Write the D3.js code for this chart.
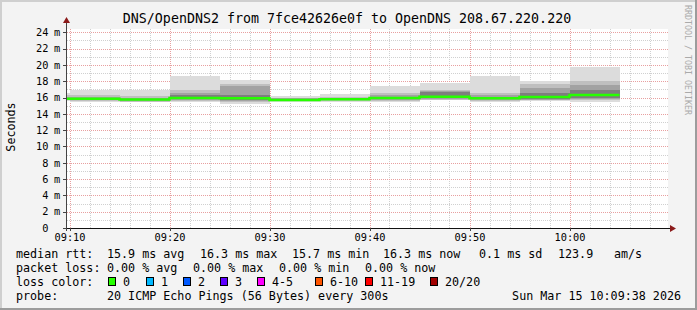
<!DOCTYPE html>
<html>
<head>
<meta charset="utf-8">
<title>smokeping</title>
<script src="https://cdnjs.cloudflare.com/ajax/libs/d3/7.8.5/d3.min.js"></script>
<style>
  body { margin: 0; background: #f3f3f3; }
  text { font-family: "DejaVu Sans Mono", monospace; }
</style>
</head>
<body>
<script>
// 5 minute bins, rtt in ms
const binStarts = ["09:05","09:10","09:15","09:20","09:25","09:30","09:35","09:40","09:45","09:50","09:55","10:00"];
const medianMs = [15.85,15.85,15.75,15.95,15.9,15.7,15.8,15.95,16.1,15.9,16.05,16.3];
const minMs    = [15.6,15.45,15.4,15.5,15.2,15.5,15.45,15.5,15.7,15.5,15.6,15.5];
const maxMs    = [16.5,16.95,16.95,18.6,18.1,16.15,16.4,17.4,17.8,18.6,18.05,19.75];
const q2Lo     = [15.65,15.55,15.5,15.6,15.45,15.55,15.55,15.6,15.75,15.6,15.65,15.65];
const q2Hi     = [16.3,16.3,16.15,16.9,17.65,16.0,16.1,16.5,16.9,16.5,17.6,18.05];
const q3Lo     = [15.7,15.65,15.6,15.7,15.6,15.6,15.65,15.7,15.8,15.7,15.75,15.8];
const q3Hi     = [16.1,16.1,15.95,16.6,17.45,15.9,15.95,16.25,16.8,16.25,17.15,17.55];
const q4Lo     = [15.75,15.75,15.65,15.8,15.75,15.65,15.7,15.8,15.9,15.8,15.85,15.95];
const q4Hi     = [15.95,15.95,15.85,16.3,16.3,15.8,15.9,16.1,16.7,16.05,16.6,16.9];

const yTicks = [0,2,4,6,8,10,12,14,16,18,20,22,24];
const xTicks = ["09:10","09:20","09:30","09:40","09:50","10:00"];

const lossLabels = ["0","1","2","3","4-5","6-10","11-19","20/20"];
const lossColors = ["#26ff00","#00b8ff","#0059ff","#5e00ff","#ff00ff","#ff5500","#ff0000","#a10000"];
const lossBoxX   = [108,146,183,220,257,315,365,430];

const rttStats = ["15.9 ms avg","16.3 ms max","15.7 ms min","16.3 ms now","0.1 ms sd","123.9","am/s"];
const rttX     = [107,200,292,383,479,558,614];
const lossStats = ["0.00 % avg","0.00 % max","0.00 % min","0.00 % now"];
const lossX    = [107,193,279,365];

const title = "DNS/OpenDNS2 from 7fce42626e0f to OpenDNS 208.67.220.220";
const probeText = "20 ICMP Echo Pings (56 Bytes) every 300s";
const stamp = "Sun Mar 15 10:09:38 2026";

const W = 697, H = 310;
const pLeft = 67, pRight = 668, pTop = 29, pBottom = 228;

const parse = s => {
  const [h, m] = s.split(":").map(Number);
  return new Date(2026, 2, 15, h, m);
};

const x = d3.scaleTime()
  .domain([new Date(2026,2,15,9,9,45), new Date(2026,2,15,10,9,51)])
  .range([pLeft, pRight]);
const y = d3.scaleLinear().domain([0, 24.4]).range([pBottom, pTop]);

const svg = d3.select("body").append("svg")
  .attr("width", W).attr("height", H)
  .style("display", "block");

// canvas + 3d frame
svg.append("rect").attr("width", W).attr("height", H).attr("fill", "#f3f3f3");
svg.append("path").attr("d", `M1,${H} V1 H${W}`).attr("stroke", "#cfcfcf").attr("stroke-width", 2).attr("fill", "none");
svg.append("path").attr("d", `M0,${H-1} H${W-1} V0`).attr("stroke", "#9c9c9c").attr("stroke-width", 2).attr("fill", "none");

svg.append("rect").attr("x", pLeft).attr("y", pTop).attr("width", pRight - pLeft).attr("height", pBottom - pTop).attr("fill", "#fff");

svg.append("defs").append("clipPath").attr("id", "plot")
  .append("rect").attr("x", pLeft).attr("y", pTop).attr("width", pRight - pLeft).attr("height", pBottom - pTop);

// grid
const grid = svg.append("g").attr("shape-rendering", "crispEdges");
const minorMs = d3.range(1, 25, 2);
grid.selectAll(".hmin").data(minorMs).join("line")
  .attr("x1", pLeft).attr("x2", pRight)
  .attr("y1", d => Math.round(y(d)) + 0.5).attr("y2", d => Math.round(y(d)) + 0.5)
  .attr("stroke", "#d0d0d0").attr("stroke-dasharray", "1,1");
const minorT = d3.timeMinute.every(2).range(x.domain()[0], x.domain()[1]).filter(t => t.getMinutes() % 10 != 0);
grid.selectAll(".vmin").data(minorT).join("line")
  .attr("y1", pTop).attr("y2", pBottom)
  .attr("x1", d => Math.round(x(d)) + 0.5).attr("x2", d => Math.round(x(d)) + 0.5)
  .attr("stroke", "#d0d0d0").attr("stroke-dasharray", "1,1");
grid.selectAll(".hmaj").data(yTicks.slice(1)).join("line")
  .attr("x1", pLeft).attr("x2", pRight)
  .attr("y1", d => Math.round(y(d)) + 0.5).attr("y2", d => Math.round(y(d)) + 0.5)
  .attr("stroke", "#e8a0a0").attr("stroke-dasharray", "1,1");
grid.selectAll(".vmaj").data(xTicks).join("line")
  .attr("y1", pTop).attr("y2", pBottom)
  .attr("x1", d => Math.round(x(parse(d))) + 0.5).attr("x2", d => Math.round(x(parse(d))) + 0.5)
  .attr("stroke", "#e8a0a0").attr("stroke-dasharray", "1,1");

// smoke
const bins = binStarts.map((s, i) => ({
  t0: parse(s), t1: d3.timeMinute.offset(parse(s), 5),
  med: medianMs[i],
  bands: [[minMs[i], maxMs[i]], [q2Lo[i], q2Hi[i]], [q3Lo[i], q3Hi[i]], [q4Lo[i], q4Hi[i]]]
}));
const shades = ["#dcdcdc", "#bfbfbf", "#a2a2a2", "#7e7e7e"];
const smoke = svg.append("g").attr("clip-path", "url(#plot)").attr("shape-rendering", "crispEdges");
shades.forEach((c, k) => {
  smoke.selectAll(".b" + k).data(bins).join("rect")
    .attr("x", d => Math.round(x(d.t0)))
    .attr("width", d => Math.round(x(d.t1)) - Math.round(x(d.t0)))
    .attr("y", d => y(d.bands[k][1]))
    .attr("height", d => y(d.bands[k][0]) - y(d.bands[k][1]))
    .attr("fill", c);
});

// median line
const medPts = [];
bins.forEach(d => { medPts.push([x(d.t0), y(d.med)]); });
medPts.push([x(bins[bins.length - 1].t1), y(bins[bins.length - 1].med)]);
svg.append("path").attr("clip-path", "url(#plot)")
  .attr("d", d3.line().curve(d3.curveStepAfter)(medPts))
  .attr("fill", "none").attr("stroke", lossColors[0]).attr("stroke-width", 2.5);

// axes
const axes = svg.append("g").attr("shape-rendering", "crispEdges");
axes.append("line").attr("x1", pLeft - 0.5).attr("x2", pLeft - 0.5).attr("y1", pBottom + 3).attr("y2", 22).attr("stroke", "#444");
axes.append("line").attr("x1", pLeft - 3).attr("x2", pRight + 3).attr("y1", pBottom + 0.5).attr("y2", pBottom + 0.5).attr("stroke", "#111");
svg.append("path").attr("d", `M${pLeft-4},${23} L${pLeft-0.5},${17} L${pLeft+3},${23} Z`).attr("fill", "#8b1a1a");
svg.append("path").attr("d", `M${pRight+2},${pBottom-3} L${pRight+8},${pBottom+0.5} L${pRight+2},${pBottom+4} Z`).attr("fill", "#8b1a1a");

axes.selectAll(".yt").data(yTicks).join("line")
  .attr("x1", pLeft - 4).attr("x2", pLeft)
  .attr("y1", d => Math.round(y(d)) + 0.5).attr("y2", d => Math.round(y(d)) + 0.5)
  .attr("stroke", "#444");
axes.selectAll(".xt").data(xTicks).join("line")
  .attr("y1", pBottom).attr("y2", pBottom + 3)
  .attr("x1", d => Math.round(x(parse(d))) + 0.5).attr("x2", d => Math.round(x(parse(d))) + 0.5)
  .attr("stroke", "#444");

// y labels: number column, then unit column (rrdtool style)
svg.selectAll(".yl").data(yTicks).join("text")
  .attr("x", 48.5).attr("y", d => y(d) + 3.8)
  .attr("text-anchor", "end").attr("font-size", "10.3px").attr("fill", "#000")
  .text(d => d);
svg.selectAll(".yu").data(yTicks.filter(d => d > 0)).join("text")
  .attr("x", 54).attr("y", d => y(d) + 3.8)
  .attr("font-size", "10.3px").attr("fill", "#000")
  .text("m");

svg.selectAll(".xl").data(xTicks).join("text")
  .attr("x", d => x(parse(d)) + 0.5).attr("y", 240.5)
  .attr("text-anchor", "middle").attr("font-size", "10.3px").attr("fill", "#000")
  .text(d => d);

// titles
svg.append("text").attr("x", 347).attr("y", 23).attr("text-anchor", "middle")
  .attr("font-size", "13.3px").attr("fill", "#000").text(title);
svg.append("text").attr("transform", "translate(15,127) rotate(-90)")
  .attr("text-anchor", "middle").attr("font-size", "11.7px").attr("fill", "#000").text("Seconds");
svg.append("text").attr("transform", "translate(685,5) rotate(90)")
  .attr("font-size", "8.3px").attr("fill", "#aaa").text("RRDTOOL / TOBI OETIKER");

// legend
const leg = svg.append("g").attr("font-size", "11.7px").attr("fill", "#000");
leg.append("text").attr("x", 16).attr("y", 258).text("median rtt:");
leg.selectAll(".rs").data(rttStats).join("text")
  .attr("x", (d, i) => rttX[i]).attr("y", 258).text(d => d);
leg.append("text").attr("x", 16).attr("y", 272).text("packet loss:");
leg.selectAll(".ls").data(lossStats).join("text")
  .attr("x", (d, i) => lossX[i]).attr("y", 272).text(d => d);
leg.append("text").attr("x", 16).attr("y", 286).text("loss color:");
leg.selectAll(".lb").data(lossColors).join("rect")
  .attr("x", (d, i) => lossBoxX[i] + 0.5).attr("y", 277.5)
  .attr("width", 7).attr("height", 8)
  .attr("fill", d => d).attr("stroke", "#000").attr("shape-rendering", "crispEdges");
leg.selectAll(".lt").data(lossLabels).join("text")
  .attr("x", (d, i) => lossBoxX[i] + 15).attr("y", 286).text(d => d);
leg.append("text").attr("x", 16).attr("y", 300).text("probe:");
leg.append("text").attr("x", 107).attr("y", 300).text(probeText);
leg.append("text").attr("x", 681).attr("y", 300).attr("text-anchor", "end").text(stamp);
</script>
</body>
</html>
